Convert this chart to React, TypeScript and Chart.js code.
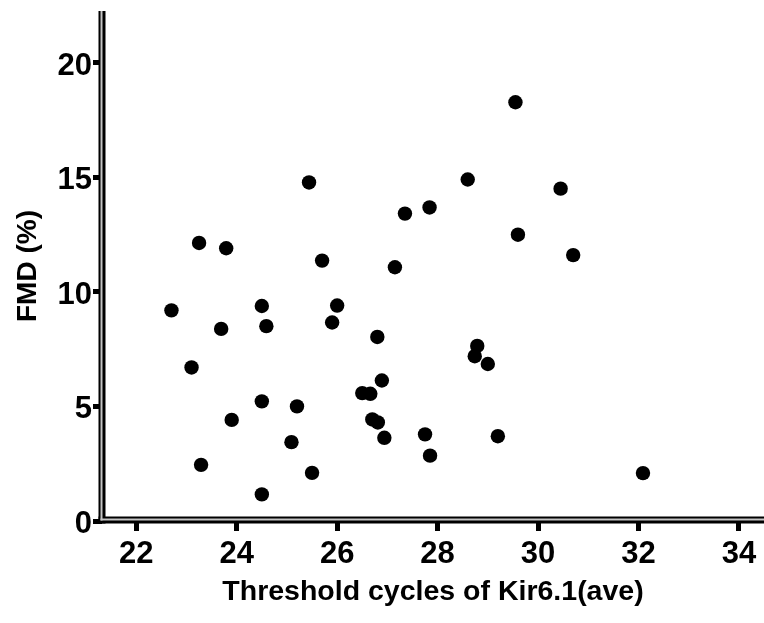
import { useEffect, useRef } from "react";
import { Chart, registerables } from "chart.js";

Chart.register(...registerables);

// Threshold cycles of Kir6.1 (ave)
const cycles = [
  22.7, 23.1, 23.25, 23.29, 23.69, 23.79, 23.9, 24.5, 24.59, 24.5,
  24.5, 25.09, 25.2, 25.44, 25.5, 25.7, 25.9, 26.0, 26.5, 26.66,
  26.7, 26.81, 26.8, 26.89, 26.94, 27.15, 27.35, 27.75, 27.85, 27.84,
  28.6, 28.74, 28.79, 29.0, 29.2, 29.55, 29.6, 30.45, 30.7, 32.09,
];
// FMD (%)
const fmd = [
  9.19, 6.7, 12.13, 2.45, 8.38, 11.9, 4.41, 9.38, 8.5, 5.22,
  1.16, 3.44, 5.0, 14.77, 2.1, 11.36, 8.66, 9.4, 5.58, 5.55,
  4.43, 4.3, 8.03, 6.13, 3.63, 11.07, 13.41, 3.78, 2.85, 13.68,
  14.9, 7.19, 7.64, 6.85, 3.7, 18.27, 12.49, 14.5, 11.6, 2.09,
];
const xTicks = [22, 24, 26, 28, 30, 32, 34];
const yTicks = [0, 5, 10, 15, 20];
const xTitle = "Threshold cycles of Kir6.1(ave)";
const yTitle = "FMD (%)";

const FONT = "'Liberation Sans', Arial, Helvetica, sans-serif";

const doubleAxes = {
  id: "doubleAxes",
  afterDraw(chart: any) {
    const { ctx, chartArea } = chart;
    const L = chartArea.left;
    const B = chartArea.bottom;
    const T = chartArea.top;
    const R = chart.width;
    ctx.save();
    ctx.fillStyle = "#000";
    // y axis black band
    ctx.fillRect(L - 3.5, T, 7, B + 2.5 - T);
    // x axis black band
    ctx.fillRect(L - 3.5, B - 4.5, R - (L - 3.5), 7);
    ctx.fillStyle = "#c4c4c4";
    // y axis light stripe
    ctx.fillRect(L - 1.5, T, 2, B - 0.5 - T);
    // x axis light stripe
    ctx.fillRect(L - 1.5, B - 2.5, R - (L - 1.5), 2);
    ctx.restore();
  },
};

export default function App() {
  const ref = useRef<HTMLCanvasElement | null>(null);

  useEffect(() => {
    document.body.style.margin = "0";
    const canvas = ref.current;
    if (!canvas) return;
    const chart = new Chart(canvas, {
      type: "scatter",
      data: {
        datasets: [
          {
            data: cycles.map((x, i) => ({ x, y: fmd[i] })),
            backgroundColor: "#000",
            borderWidth: 0,
            pointRadius: 7.2,
            pointHoverRadius: 7.2,
          },
        ],
      },
      options: {
        animation: false,
        responsive: false,
        devicePixelRatio: 1,
        events: [],
        layout: { autoPadding: false, padding: { top: 11, left: 0, right: 0, bottom: 0 } },
        plugins: {
          legend: { display: false },
          tooltip: { enabled: false },
        },
        scales: {
          x: {
            type: "linear",
            min: 21.317,
            max: 34.5,
            afterBuildTicks: (s: any) => {
              s.ticks = xTicks.map((v) => ({ value: v }));
            },
            afterFit: (s: any) => {
              s.height = 102;
              s.paddingLeft = 0;
              s.paddingRight = 0;
            },
            border: { display: false },
            grid: {
              display: true,
              drawOnChartArea: false,
              drawTicks: true,
              tickLength: 10,
              tickWidth: 5,
              tickColor: "#000",
            },
            ticks: {
              color: "#000",
              padding: 5,
              maxRotation: 0,
              autoSkip: false,
              font: { family: FONT, size: 31, weight: "bold" },
            },
            title: {
              display: true,
              text: xTitle,
              color: "#000",
              padding: { top: 0, bottom: 14 },
              font: { family: FONT, size: 28.5, weight: "bold" },
            },
          },
          y: {
            type: "linear",
            min: 0,
            max: 22.25,
            afterBuildTicks: (s: any) => {
              s.ticks = yTicks.map((v) => ({ value: v }));
            },
            afterFit: (s: any) => {
              s.width = 102;
              s.paddingTop = 0;
              s.paddingBottom = 0;
            },
            border: { display: false },
            grid: {
              display: true,
              drawOnChartArea: false,
              drawTicks: true,
              tickLength: 9,
              tickWidth: 5,
              tickColor: "#000",
            },
            ticks: {
              color: "#000",
              padding: 1,
              autoSkip: false,
              callback: (v: any) => ["", String(v)],
              font: { family: FONT, size: 31, weight: "bold", lineHeight: "7px" },
            },
            title: {
              display: true,
              text: yTitle,
              color: "#000",
              padding: { top: 11, bottom: 0 },
              font: { family: FONT, size: 28, weight: "bold" },
            },
          },
        },
      },
      plugins: [doubleAxes],
    } as any);
    return () => chart.destroy();
  }, []);

  return <canvas ref={ref} width={764} height={623} style={{ display: "block" }} />;
}
